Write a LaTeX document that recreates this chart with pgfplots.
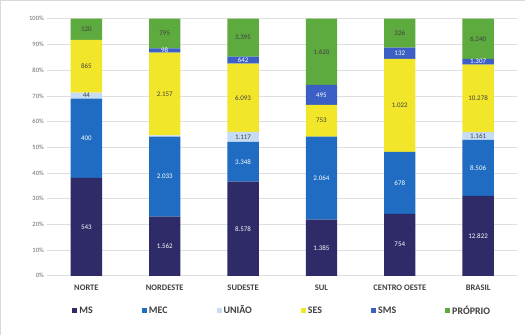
\documentclass[border=0pt]{standalone}
\usepackage{pgfplots}
\pgfplotsset{compat=1.18}
\usepackage{fontspec}
\setmainfont{Carlito}
\definecolor{ms}{HTML}{2F2B69}
\definecolor{mec}{HTML}{1F6CC2}
\definecolor{uniao}{HTML}{C5DCF2}
\definecolor{ses}{HTML}{F2E62A}
\definecolor{sms}{HTML}{3B5FC4}
\definecolor{proprio}{HTML}{5DAA3E}
\definecolor{txt}{HTML}{404040}
\begin{document}
\begin{tikzpicture}
\begin{axis}[
  scale only axis,
  width=470bp, height=257bp,
  ybar stacked,
  bar width=0.4,
  xmin=-0.5, xmax=5.5,
  ymin=0, ymax=100,
  xtick={0,...,5},
  xticklabels={NORTE,NORDESTE,SUDESTE,SUL,CENTRO OESTE,BRASIL},
  xticklabel style={font=\fontsize{8.5}{9}\selectfont\bfseries, text=txt, yshift=-6bp},
  ytick={0,10,...,100},
  yticklabel={\pgfmathprintnumber{\tick}\%},
  yticklabel style={font=\fontsize{6.5}{7}\selectfont, text=txt!80},
  /pgf/number format/assume math mode=true,
  axis line style={draw=none},
  major tick length=0pt,
  ymajorgrids,
  grid style={gray!25, line width=0.6pt},
  legend style={at={(0.5,-0.1)}, anchor=north, legend columns=6, draw=none,
     font=\fontsize{10}{11}\selectfont\bfseries, text=txt,
     /tikz/every even column/.append style={column sep=47bp}},
  legend image code/.code={\fill[#1, draw=none] (0bp,-2.5bp) rectangle (5bp,2.5bp);},
]
\addplot+[fill=ms, draw=none] coordinates
  {(0,38.1) (1,23.0) (2,36.6) (3,21.8) (4,24.1) (5,31.1)};
\addplot+[fill=mec, draw=none] coordinates
  {(0,30.8) (1,31.1) (2,15.5) (3,32.3) (4,24.1) (5,21.8)};
\addplot+[fill=uniao, draw=none] coordinates
  {(0,2.3) (1,0.5) (2,3.9) (3,0) (4,0) (5,3.1)};
\addplot+[fill=ses, draw=none] coordinates
  {(0,20.6) (1,32.2) (2,26.5) (3,12.4) (4,36.2) (5,26.1)};
\addplot+[fill=sms, draw=none] coordinates
  {(0,0) (1,1.7) (2,2.7) (3,7.8) (4,4.3) (5,2.3)};
\addplot+[fill=proprio, draw=none] coordinates
  {(0,8.2) (1,11.5) (2,14.8) (3,25.7) (4,11.3) (5,15.6)};
\legend{MS,MEC,UNIÃO,SES,SMS,PRÓPRIO}
\end{axis}
\begin{axis}[
  scale only axis,
  width=470bp, height=257bp,
  xmin=-0.5, xmax=5.5,
  ymin=0, ymax=100,
  hide axis, clip=false,
  point meta=explicit symbolic,
  nodes near coords,
  every node near coord/.append style={anchor=center, font=\fontsize{7}{8}\selectfont},
]
% labels on dark segments (white text)
\addplot[draw=none, mark=none, every node near coord/.append style={text=white}] coordinates
  {(0,19.05)[543] (0,53.5)[400]
   (1,11.5)[1.562] (1,38.55)[2.033] (1,87.65)[98]
   (2,18.3)[8.578] (2,44.35)[3.348] (2,83.85)[642]
   (3,10.9)[1.385] (3,37.95)[2.064] (3,70.4)[495]
   (4,12.05)[754] (4,36.15)[678] (4,86.55)[132]
   (5,15.55)[12.822] (5,42)[8.506] (5,83.25)[1.307]};
% labels on light segments (dark text)
\addplot[draw=none, mark=none, every node near coord/.append style={text=txt}] coordinates
  {(0,70.05)[44] (0,81.5)[865] (0,95.9)[120]
   (1,70.7)[2.157] (1,94.25)[795]
   (2,54.05)[1.117] (2,69.25)[6.093] (2,92.6)[3.395]
   (3,60.3)[753] (3,87.15)[1.620]
   (4,66.3)[1.022] (4,94.35)[326]
   (5,54.45)[1.161] (5,69.05)[10.278] (5,92.2)[6.240]};
\draw[gray!30] ([shift={(-47bp,-59bp)}]rel axis cs:0,0) rectangle ([shift={(7.5bp,18.5bp)}]rel axis cs:1,1);
\end{axis}
\end{tikzpicture}
\end{document}
